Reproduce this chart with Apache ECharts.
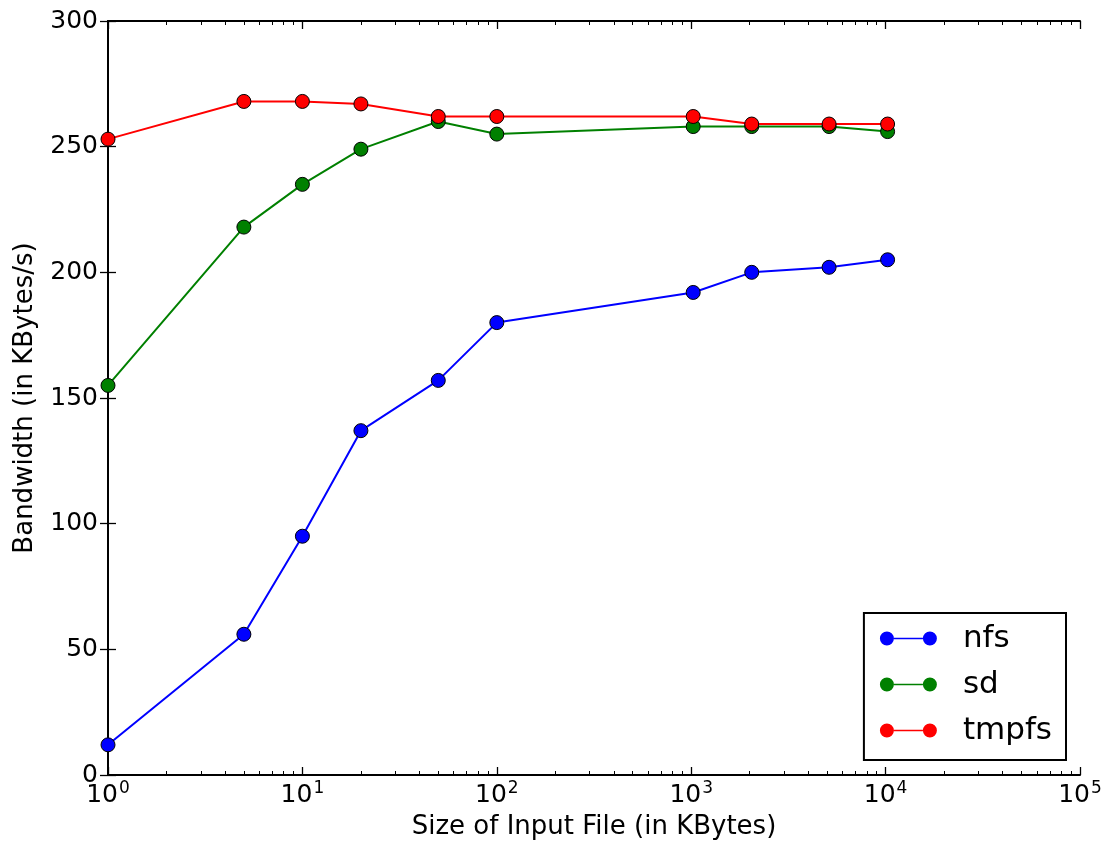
<!DOCTYPE html>
<html>
<head>
<meta charset="utf-8">
<script src="https://cdn.jsdelivr.net/npm/echarts@6/dist/echarts.min.js"></script>
<style>html,body{margin:0;padding:0;background:#fff}#c{width:1107px;height:852px}</style>
</head>
<body>
<div id="c"></div>
<script>
const fileSizes = [1, 5, 10, 20, 50, 100, 1024, 2048, 5120, 10240];
const nfs   = [12, 56, 95, 137, 157, 180, 192, 200, 202, 205];
const sd    = [155, 218, 235, 249, 260, 255, 258, 258, 258, 256];
const tmpfs = [253, 268, 268, 267, 262, 262, 262, 259, 259, 259];
const seriesNames = ['nfs', 'sd', 'tmpfs'];
const seriesColors = ['#0000ff', '#008000', '#ff0000'];
const seriesValues = [nfs, sd, tmpfs];
// minor tick positions (log10 of 2..9 × decade), for the log axis
const minorTickPos = [];
for (let d = 0; d < 5; d++) for (let k = 2; k <= 9; k++) minorTickPos.push(d + Math.log10(k));

const FONT = 'DejaVu Sans';
const black = '#000';

const chart = echarts.init(document.getElementById('c'), null, {renderer: 'canvas'});

const lineAx = {show: true, lineStyle: {color: black, width: 2}};
const noLine = {show: false};

const option = {
  animation: false,
  backgroundColor: '#fff',
  textStyle: {fontFamily: FONT},
  grid: {left: 108, right: 27, top: 21, bottom: 77, containLabel: false},
  xAxis: [
    {
      type: 'log', logBase: 10, min: 1, max: 100000, position: 'bottom',
      axisLine: lineAx,
      axisTick: {show: true, inside: true, length: 8, lineStyle: {color: black, width: 1.3}},
      splitLine: {show: false},
      axisLabel: {
        margin: 5, color: black,
        formatter: function (v) {
          const e = Math.round(Math.log10(v));
          return '{b|10}{s|' + e + '}';
        },
        rich: {
          b: {fontFamily: FONT, fontSize: 25, color: black, lineHeight: 28, verticalAlign: 'bottom'},
          s: {fontFamily: FONT, fontSize: 17, color: black, lineHeight: 28, verticalAlign: 'top', padding: [0, 0, 10, 1]}
        }
      },
      name: 'Size of Input File (in KBytes)', nameLocation: 'middle', nameGap: 39,
      nameTextStyle: {fontFamily: FONT, fontSize: 26, color: black}
    },
    {
      type: 'value', min: 0, max: 5, position: 'bottom',
      axisLine: noLine, splitLine: {show: false}, axisLabel: {show: false},
      axisTick: {show: true, inside: true, length: 4, customValues: minorTickPos, lineStyle: {color: black, width: 1}}
    },
    {
      type: 'log', logBase: 10, min: 1, max: 100000, position: 'top',
      axisLine: lineAx, splitLine: {show: false}, axisLabel: {show: false},
      axisTick: {show: true, inside: true, length: 8, lineStyle: {color: black, width: 1.3}}
    },
    {
      type: 'value', min: 0, max: 5, position: 'top',
      axisLine: noLine, splitLine: {show: false}, axisLabel: {show: false},
      axisTick: {show: true, inside: true, length: 4, customValues: minorTickPos, lineStyle: {color: black, width: 1}}
    }
  ],
  yAxis: [
    {
      type: 'value', min: 0, max: 300, interval: 50, position: 'left',
      axisLine: lineAx,
      axisTick: {show: true, inside: true, length: 8, lineStyle: {color: black, width: 1.3}},
      splitLine: {show: false},
      axisLabel: {margin: 10, color: black, fontFamily: FONT, fontSize: 25},
      name: 'Bandwidth (in KBytes/s)', nameLocation: 'middle', nameGap: 70, nameRotate: 90,
      nameTextStyle: {fontFamily: FONT, fontSize: 26, color: black}
    },
    {
      type: 'value', min: 0, max: 300, interval: 50, position: 'right',
      axisLine: lineAx,
      axisTick: {show: true, inside: true, length: 8, lineStyle: {color: black, width: 1.3}},
      splitLine: {show: false}, axisLabel: {show: false}
    }
  ],
  legend: {
    orient: 'vertical', right: 41, bottom: 92,
    backgroundColor: '#fff', borderColor: black, borderWidth: 2, borderRadius: 0,
    padding: [10, 14, 14, 16], itemGap: 15,
    itemWidth: 57, itemHeight: 14,
    icon: 'path://M0,7 a7,7 0 1,0 14,0 a7,7 0 1,0 -14,0 Z M14,6.2 L43,6.2 L43,7.8 L14,7.8 Z M43,7 a7,7 0 1,0 14,0 a7,7 0 1,0 -14,0 Z',
    itemStyle: {borderWidth: 0},
    textStyle: {fontFamily: FONT, fontSize: 31, lineHeight: 30, color: black, padding: [0, 0, 0, 21]},
    data: seriesNames
  },
  series: seriesNames.map((name, i) => ({
    name: name, type: 'line', xAxisIndex: 0, yAxisIndex: 0,
    data: fileSizes.map((x, j) => [x, seriesValues[i][j]]),
    symbol: 'circle', symbolSize: 14, showSymbol: true,
    lineStyle: {color: seriesColors[i], width: 2},
    itemStyle: {color: seriesColors[i], borderColor: black, borderWidth: 1},
    emphasis: {disabled: true}
  }))
};
chart.setOption(option);
</script>
</body>
</html>
